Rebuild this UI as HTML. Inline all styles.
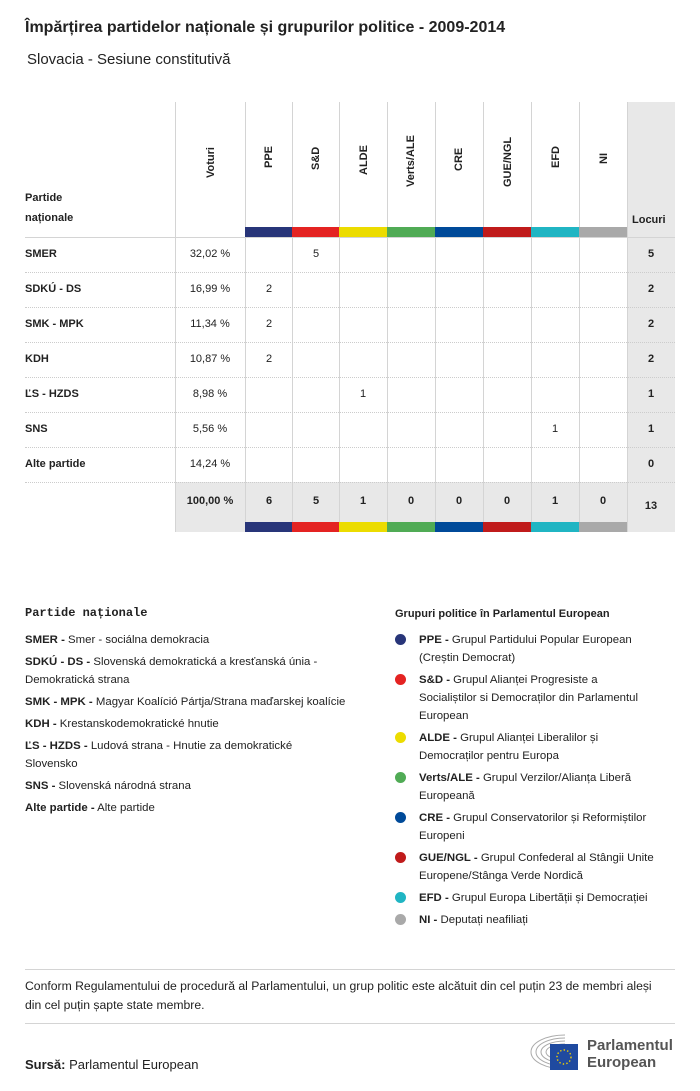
<!DOCTYPE html>
<html><head><meta charset="utf-8"><style>
body{margin:0;width:700px;height:1091px;background:#fff;font-family:"Liberation Sans",sans-serif;color:#222;position:relative;overflow:hidden}
.a{position:absolute}
.t{font-size:11px}
.b{font-weight:bold}
.vl{position:absolute;width:1px;background:#d4d4d4}
.hl{position:absolute;height:0;border-top:1px dotted #ccc;left:25px;width:650px}
.rot{position:absolute;transform:rotate(-90deg);transform-origin:left top;font-size:11px;font-weight:bold;white-space:nowrap}
.c{position:absolute;width:48px;text-align:center;font-size:11px}
.dot{position:absolute;width:11px;height:11px;border-radius:50%;left:395px}
.lg{position:absolute;left:419px;font-size:11.4px;line-height:18px;white-space:nowrap}
.ln{position:absolute;left:25px;font-size:11.4px;line-height:18px;white-space:nowrap}
</style></head><body>
<div class="a b" style="left:25px;top:19px;font-size:16px">Împărțirea partidelor naționale și grupurilor politice - 2009-2014</div>
<div class="a" style="left:27px;top:51px;font-size:15px">Slovacia - Sesiune constitutivă</div>

<div class="a" style="left:627px;top:102px;width:48px;height:430px;background:#e8e8e8"></div>
<div class="a" style="left:175px;top:482px;width:500px;height:50px;background:#e8e8e8"></div>

<div class="vl" style="left:175px;top:102px;height:430px"></div>
<div class="vl" style="left:245px;top:102px;height:430px"></div>
<div class="vl" style="left:292px;top:102px;height:430px"></div>
<div class="vl" style="left:339px;top:102px;height:430px"></div>
<div class="vl" style="left:387px;top:102px;height:430px"></div>
<div class="vl" style="left:435px;top:102px;height:430px"></div>
<div class="vl" style="left:483px;top:102px;height:430px"></div>
<div class="vl" style="left:531px;top:102px;height:430px"></div>
<div class="vl" style="left:579px;top:102px;height:430px"></div>
<div class="vl" style="left:627px;top:102px;height:430px"></div>

<div class="a" style="left:25px;top:237px;width:650px;height:1px;background:#d4d4d4"></div>
<div class="hl" style="top:272px"></div><div class="hl" style="top:307px"></div><div class="hl" style="top:342px"></div><div class="hl" style="top:377px"></div><div class="hl" style="top:412px"></div><div class="hl" style="top:447px"></div><div class="hl" style="top:482px"></div>

<div class="a t b" style="left:25px;top:188px;line-height:20px">Partide<br>naționale</div>
<div class="a t b" style="left:632px;top:214px">Locuri</div>
<div class="rot" style="left:205px;top:178px">Voturi</div>
<div class="rot" style="left:263px;top:168px">PPE</div>
<div class="rot" style="left:310px;top:170px">S&amp;D</div>
<div class="rot" style="left:358px;top:175px">ALDE</div>
<div class="rot" style="left:405px;top:187px">Verts/ALE</div>
<div class="rot" style="left:453px;top:171px">CRE</div>
<div class="rot" style="left:502px;top:187px">GUE/NGL</div>
<div class="rot" style="left:550px;top:168px">EFD</div>
<div class="rot" style="left:598px;top:164px">NI</div>

<div class="a" style="top:227px;left:245px;width:47px;height:10px;background:#283579"></div>
<div class="a" style="top:227px;left:292px;width:47px;height:10px;background:#e42322"></div>
<div class="a" style="top:227px;left:339px;width:48px;height:10px;background:#ecdc00"></div>
<div class="a" style="top:227px;left:387px;width:48px;height:10px;background:#50ab55"></div>
<div class="a" style="top:227px;left:435px;width:48px;height:10px;background:#004a99"></div>
<div class="a" style="top:227px;left:483px;width:48px;height:10px;background:#c01b1b"></div>
<div class="a" style="top:227px;left:531px;width:48px;height:10px;background:#20b5c3"></div>
<div class="a" style="top:227px;left:579px;width:48px;height:10px;background:#a9a9a9"></div>
<div class="a" style="top:522px;left:245px;width:47px;height:10px;background:#283579"></div>
<div class="a" style="top:522px;left:292px;width:47px;height:10px;background:#e42322"></div>
<div class="a" style="top:522px;left:339px;width:48px;height:10px;background:#ecdc00"></div>
<div class="a" style="top:522px;left:387px;width:48px;height:10px;background:#50ab55"></div>
<div class="a" style="top:522px;left:435px;width:48px;height:10px;background:#004a99"></div>
<div class="a" style="top:522px;left:483px;width:48px;height:10px;background:#c01b1b"></div>
<div class="a" style="top:522px;left:531px;width:48px;height:10px;background:#20b5c3"></div>
<div class="a" style="top:522px;left:579px;width:48px;height:10px;background:#a9a9a9"></div>

<div class="a t b" style="left:25px;top:248px">SMER</div><div class="c" style="left:186px;top:248px">32,02 %</div><div class="c" style="left:292px;top:248px">5</div><div class="c b" style="left:627px;top:248px">5</div>
<div class="a t b" style="left:25px;top:283px">SDKÚ - DS</div><div class="c" style="left:186px;top:283px">16,99 %</div><div class="c" style="left:245px;top:283px">2</div><div class="c b" style="left:627px;top:283px">2</div>
<div class="a t b" style="left:25px;top:318px">SMK - MPK</div><div class="c" style="left:186px;top:318px">11,34 %</div><div class="c" style="left:245px;top:318px">2</div><div class="c b" style="left:627px;top:318px">2</div>
<div class="a t b" style="left:25px;top:353px">KDH</div><div class="c" style="left:186px;top:353px">10,87 %</div><div class="c" style="left:245px;top:353px">2</div><div class="c b" style="left:627px;top:353px">2</div>
<div class="a t b" style="left:25px;top:388px">ĽS - HZDS</div><div class="c" style="left:186px;top:388px">8,98 %</div><div class="c" style="left:339px;top:388px">1</div><div class="c b" style="left:627px;top:388px">1</div>
<div class="a t b" style="left:25px;top:423px">SNS</div><div class="c" style="left:186px;top:423px">5,56 %</div><div class="c" style="left:531px;top:423px">1</div><div class="c b" style="left:627px;top:423px">1</div>
<div class="a t b" style="left:25px;top:458px">Alte partide</div><div class="c" style="left:186px;top:458px">14,24 %</div><div class="c b" style="left:627px;top:458px">0</div>
<div class="c b" style="left:175px;top:495px;width:70px">100,00 %</div>
<div class="c b" style="left:245px;top:495px">6</div><div class="c b" style="left:292px;top:495px">5</div><div class="c b" style="left:339px;top:495px">1</div><div class="c b" style="left:387px;top:495px">0</div><div class="c b" style="left:435px;top:495px">0</div><div class="c b" style="left:483px;top:495px">0</div><div class="c b" style="left:531px;top:495px">1</div><div class="c b" style="left:579px;top:495px">0</div><div class="c b" style="left:627px;top:500px">13</div>

<div class="a b" style="left:25px;top:606px;font-family:'Liberation Mono',monospace;font-size:12px">Partide naționale</div>
<div class="ln" style="top:631px"><b>SMER -</b> Smer - sociálna demokracia</div>
<div class="ln" style="top:653px"><b>SDKÚ - DS -</b> Slovenská demokratická a kresťanská únia -<br>Demokratická strana</div>
<div class="ln" style="top:693px"><b>SMK - MPK -</b> Magyar Koalíció Pártja/Strana maďarskej koalície</div>
<div class="ln" style="top:715px"><b>KDH -</b> Krestanskodemokratické hnutie</div>
<div class="ln" style="top:737px"><b>ĽS - HZDS -</b> Ludová strana - Hnutie za demokratické<br>Slovensko</div>
<div class="ln" style="top:777px"><b>SNS -</b> Slovenská národná strana</div>
<div class="ln" style="top:799px"><b>Alte partide -</b> Alte partide</div>

<div class="a t b" style="left:395px;top:608px">Grupuri politice în Parlamentul European</div>
<div class="dot" style="top:634px;background:#283579"></div><div class="lg" style="top:631px"><b>PPE -</b> Grupul Partidului Popular European<br>(Creștin Democrat)</div>
<div class="dot" style="top:674px;background:#e42322"></div><div class="lg" style="top:671px"><b>S&amp;D -</b> Grupul Alianței Progresiste a<br>Socialiștilor si Democraților din Parlamentul<br>European</div>
<div class="dot" style="top:732px;background:#ecdc00"></div><div class="lg" style="top:729px"><b>ALDE -</b> Grupul Alianței Liberalilor și<br>Democraților pentru Europa</div>
<div class="dot" style="top:772px;background:#50ab55"></div><div class="lg" style="top:769px"><b>Verts/ALE -</b> Grupul Verzilor/Alianța Liberă<br>Europeană</div>
<div class="dot" style="top:812px;background:#004a99"></div><div class="lg" style="top:809px"><b>CRE -</b> Grupul Conservatorilor și Reformiștilor<br>Europeni</div>
<div class="dot" style="top:852px;background:#c01b1b"></div><div class="lg" style="top:849px"><b>GUE/NGL -</b> Grupul Confederal al Stângii Unite<br>Europene/Stânga Verde Nordică</div>
<div class="dot" style="top:892px;background:#20b5c3"></div><div class="lg" style="top:889px"><b>EFD -</b> Grupul Europa Libertății și Democrației</div>
<div class="dot" style="top:914px;background:#a9a9a9"></div><div class="lg" style="top:911px"><b>NI -</b> Deputați neafiliați</div>

<div class="a" style="left:25px;top:969px;width:650px;height:1px;background:#d4d4d4"></div>
<div class="a" style="left:25px;top:977px;line-height:19px;white-space:nowrap;font-size:12.2px">Conform Regulamentului de procedură al Parlamentului, un grup politic este alcătuit din cel puțin 23 de membri aleși<br>din cel puțin șapte state membre.</div>
<div class="a" style="left:25px;top:1023px;width:650px;height:1px;background:#d4d4d4"></div>
<div class="a" style="left:25px;top:1057px;font-size:13px"><b>Sursă:</b> Parlamentul European</div>

<svg class="a" style="left:515px;top:1033px" width="70" height="40" viewBox="0 0 70 40">
<g fill="none" stroke="#aaa" stroke-width="1">
<path d="M50 2 A34 17 0 1 0 50 36"/><path d="M50 5 A29 14 0 1 0 50 33"/><path d="M50 8 A24 11 0 1 0 50 30"/><path d="M50 11 A19 8 0 1 0 50 27"/></g>
<rect x="35" y="11" width="28" height="26" fill="#1f4aa0"/>
<circle cx="49" cy="24" r="7" fill="none" stroke="#f5d000" stroke-width="1.4" stroke-dasharray="1.4 2.2"/>
</svg>
<div class="a b" style="left:587px;top:1037px;font-size:15px;line-height:17px;color:#555">Parlamentul<br>European</div>
</body></html>
